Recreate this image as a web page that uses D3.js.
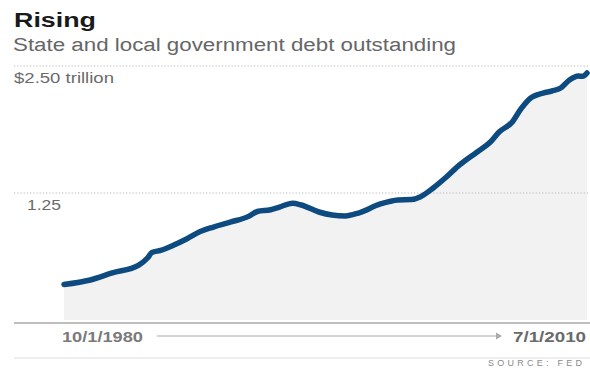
<!DOCTYPE html>
<html>
<head>
<meta charset="utf-8">
<script src="https://cdn.jsdelivr.net/npm/d3@7"></script>
<style>
  body { margin: 0; background: #fff; }
  svg { display: block; font-family: "Liberation Sans", Arial, sans-serif; }
</style>
</head>
<body>
<figure id="chart" style="margin:0"></figure>
<script>
// quarter-ish dates and debt outstanding, $ trillions
const dates = ['1980-10', '1982-04', '1983-07', '1985-01', '1985-07', '1985-10', '1986-04',
  '1987-01', '1987-10', '1988-07', '1989-04', '1990-04', '1991-04', '1991-10', '1992-07',
  '1993-01', '1993-10', '1994-04', '1995-04', '1996-01', '1996-10', '1997-07', '1998-10',
  '1999-10', '2000-07', '2001-01', '2001-10', '2002-07', '2003-04', '2004-04', '2005-01',
  '2005-07', '2006-04', '2006-10', '2007-04', '2008-01', '2008-07', '2009-01', '2009-07',
  '2010-01', '2010-04', '2010-07'];
const debt = [0.35, 0.394, 0.463, 0.541, 0.61, 0.665, 0.685,
  0.738, 0.8, 0.87, 0.915, 0.965, 1.02, 1.068, 1.085,
  1.112, 1.15, 1.132, 1.063, 1.033, 1.024, 1.053, 1.142,
  1.181, 1.185, 1.211, 1.299, 1.407, 1.526, 1.654, 1.752,
  1.85, 1.95, 2.08, 2.18, 2.234, 2.254, 2.283, 2.362,
  2.402, 2.398, 2.431];
const yTicks = [1.25, 2.5];
const yTickLabels = ['1.25', '$2.50 trillion'];
const xLabels = ['10/1/1980', '7/1/2010'];

const width = 590;
const height = 368;
const parse = d3.timeParse('%Y-%m');
const data = dates.map((d, i) => ({date: parse(d), value: debt[i]}));

const svg = d3.select('#chart')
  .append('svg')
  .attr('width', width)
  .attr('height', height);

const x = d3.scaleTime()
  .domain(d3.extent(data, d => d.date))
  .range([64, 587]);
const y = d3.scaleLinear()
  .domain([0, 2.5])
  .range([320, 66]);

// titles
svg.append('text')
  .attr('x', 14).attr('y', 27)
  .attr('textLength', 82).attr('lengthAdjust', 'spacingAndGlyphs')
  .style('font-size', '20px').style('font-weight', 'bold').style('fill', '#1a1a1a')
  .text('Rising');
svg.append('text')
  .attr('x', 13).attr('y', 51)
  .attr('textLength', 443).attr('lengthAdjust', 'spacingAndGlyphs')
  .style('font-size', '18px').style('fill', '#666')
  .text('State and local government debt outstanding');

// shaded area under the line
const area = d3.area()
  .x(d => x(d.date))
  .y0(y(0))
  .y1(d => y(d.value))
  .curve(d3.curveMonotoneX);
svg.append('path')
  .datum(data)
  .attr('d', area)
  .attr('fill', '#f2f2f2');

// dotted gridlines + labels
svg.selectAll('.grid')
  .data(yTicks)
  .enter()
  .append('line')
  .attr('x1', 14).attr('x2', width)
  .attr('y1', d => y(d)).attr('y2', d => y(d))
  .attr('stroke', '#b5b5b5')
  .attr('stroke-width', 1)
  .attr('stroke-dasharray', '1.2,2');

svg.selectAll('.ylab')
  .data(yTicks)
  .enter()
  .append('text')
  .attr('x', (d, i) => i === 0 ? 27 : 14)
  .attr('y', d => y(d) + 17)
  .attr('textLength', (d, i) => i === 0 ? 34 : 100)
  .attr('lengthAdjust', 'spacingAndGlyphs')
  .style('font-size', '15px')
  .style('fill', '#6a6a6a')
  .text((d, i) => yTickLabels[i]);

// the line
const line = d3.line()
  .x(d => x(d.date))
  .y(d => y(d.value))
  .curve(d3.curveMonotoneX);
svg.append('path')
  .datum(data)
  .attr('d', line)
  .attr('fill', 'none')
  .attr('stroke', '#0c4a80')
  .attr('stroke-width', 5.5)
  .attr('stroke-linejoin', 'round')
  .attr('stroke-linecap', 'round');

// baseline and footer rule
svg.append('line')
  .attr('x1', 14).attr('x2', width)
  .attr('y1', 323).attr('y2', 323)
  .attr('stroke', '#a8a8a8').attr('stroke-width', 1.5);
svg.append('line')
  .attr('x1', 14).attr('x2', width)
  .attr('y1', 358).attr('y2', 358)
  .attr('stroke', '#e8e8e8').attr('stroke-width', 1.5);

// date range labels with arrow between
svg.append('text')
  .attr('x', 62).attr('y', 342)
  .attr('textLength', 81).attr('lengthAdjust', 'spacingAndGlyphs')
  .style('font-size', '14px').style('font-weight', 'bold').style('fill', '#7a7a7a')
  .text(xLabels[0]);
svg.append('text')
  .attr('x', 513).attr('y', 342)
  .attr('textLength', 73).attr('lengthAdjust', 'spacingAndGlyphs')
  .style('font-size', '14px').style('font-weight', 'bold').style('fill', '#6a6a6a')
  .text(xLabels[1]);
svg.append('line')
  .attr('x1', 157).attr('x2', 500)
  .attr('y1', 336).attr('y2', 336)
  .attr('stroke', '#aaa').attr('stroke-width', 1);
svg.append('path')
  .attr('d', 'M496,332.5 L502,336 L496,339.5 Z')
  .attr('fill', '#aaa');

svg.append('text')
  .attr('x', 488).attr('y', 366)
  .attr('textLength', 94).attr('lengthAdjust', 'spacing')
  .style('font-size', '9px').style('fill', '#8a8a8a')
  .text('SOURCE: FED');
</script>
</body>
</html>
